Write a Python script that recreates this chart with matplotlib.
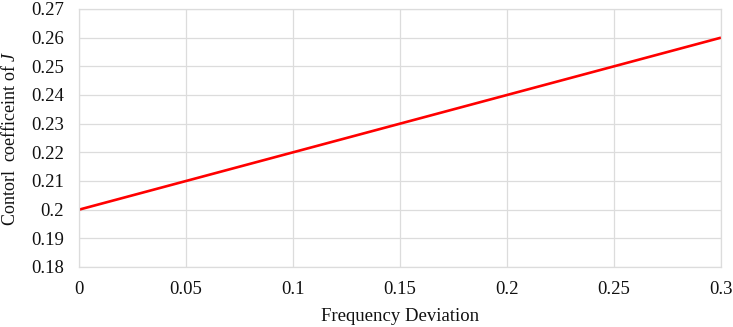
import matplotlib.pyplot as plt

freq_dev = [0, 0.3]
coef_j = [0.2, 0.26]
xticks = [0, 0.05, 0.1, 0.15, 0.2, 0.25, 0.3]
yticks = [0.18, 0.19, 0.2, 0.21, 0.22, 0.23, 0.24, 0.25, 0.26, 0.27]

plt.rcParams['font.family'] = ['Liberation Serif', 'DejaVu Serif']
plt.rcParams['mathtext.fontset'] = 'custom'
plt.rcParams['mathtext.it'] = 'Liberation Serif:italic'
plt.rcParams['mathtext.rm'] = 'Liberation Serif'

fig = plt.figure(figsize=(7.33, 3.27), dpi=100)
ax = fig.add_axes([0.1078, 0.1835, 0.8758, 0.789])

ax.plot(freq_dev, coef_j, color='#ff0000', lw=1.9, solid_capstyle='butt')

ax.set_xlim(0, 0.3)
ax.set_ylim(0.18, 0.27)
ax.set_xticks(xticks)
ax.set_yticks(yticks)
ax.set_xticklabels(['0', '0.05', '0.1', '0.15', '0.2', '0.25', '0.3'])
ax.set_yticklabels(['0.18', '0.19', '0.2', '0.21', '0.22', '0.23', '0.24', '0.25', '0.26', '0.27'])
ax.tick_params(axis='both', length=0, labelsize=13.5, colors='#111111')
ax.tick_params(axis='x', pad=10)
ax.tick_params(axis='y', pad=11)
ax.grid(True, color='#dcdcdc', lw=0.9)
ax.set_axisbelow(True)
for s in ax.spines.values():
    s.set_color('#dcdcdc')
    s.set_linewidth(0.9)

ax.set_xlabel('Frequency Deviation', fontsize=13.5, labelpad=7, color='#111111')
ax.set_ylabel('Contorl  coefficeint of $J$', fontsize=13, color='#111111')
ax.yaxis.set_label_coords(-0.094, 0.5)

fig.savefig('out.png', dpi=100)
